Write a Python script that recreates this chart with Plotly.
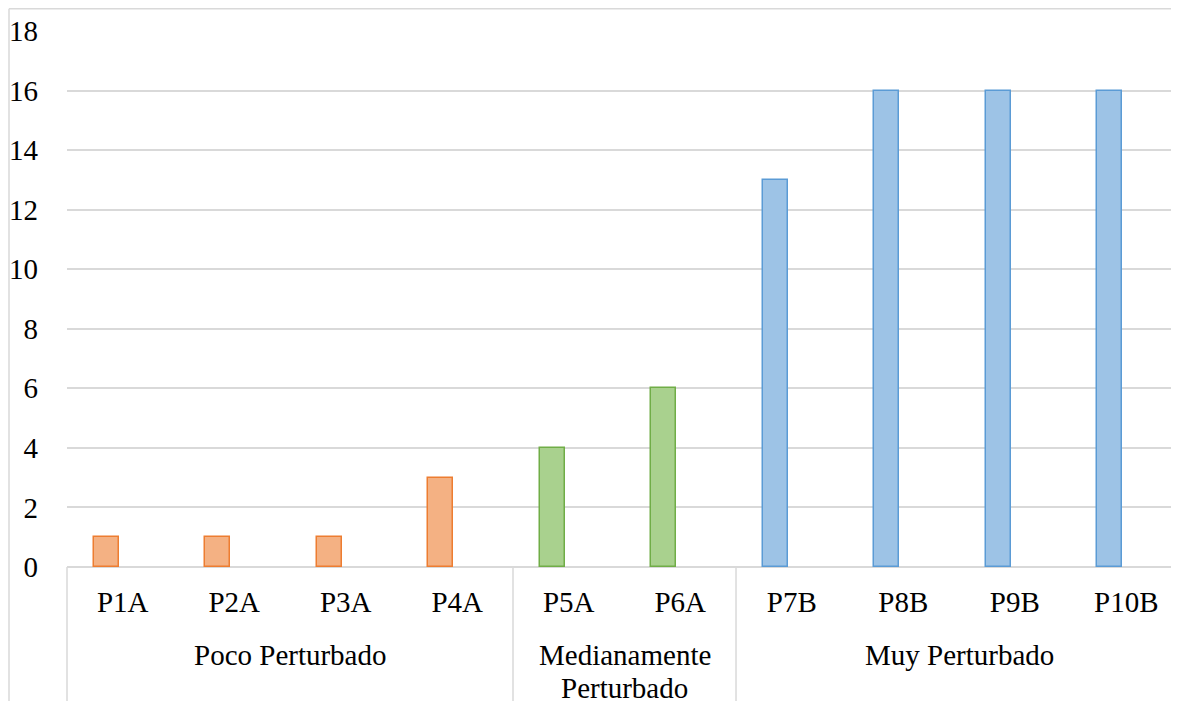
import plotly.graph_objects as go

categories = ["P1A", "P2A", "P3A", "P4A", "P5A", "P6A", "P7B", "P8B", "P9B", "P10B"]
groups = ["Poco Perturbado", "Medianamente Perturbado", "Muy Perturbado"]
group_members = [[0, 1, 2, 3], [4, 5], [6, 7, 8, 9]]
values = [1, 1, 1, 3, 4, 6, 13, 16, 16, 16]
fills = ["#F4B183", "#A9D18E", "#9DC3E6"]
edges = ["#ED7D31", "#70AD47", "#5B9BD5"]

FONT = "'Liberation Serif', 'Times New Roman', serif"
FS = 29
OFF = 8  # page body margin
W, H = 1179 - OFF, 701 - OFF
L, T, B = 67 - OFF, 31 - OFF, 134
plot_h = H - T - B
plot_w = W - L

def py(yref_pix):
    return (H - B - (yref_pix - OFF)) / plot_h

def px(xref_pix):
    return ((xref_pix - OFF) - L) / plot_w

fig = go.Figure()
for gi, members in enumerate(group_members):
    fig.add_trace(go.Bar(
        x=members,
        y=[values[i] for i in members],
        name=groups[gi],
        width=0.224,
        offset=-0.258,
        marker=dict(color=fills[gi], line=dict(color=edges[gi], width=1.5)),
        showlegend=False,
    ))

GRID = "#d9d9d9"
shapes = []
shapes.append(dict(type="line", xref="paper", yref="paper", x0=0, x1=0,
                   y0=0, y1=py(705), line=dict(color=GRID, width=1.5)))
for b in [3.5, 5.5]:
    shapes.append(dict(type="line", xref="x", yref="paper", x0=b, x1=b,
                       y0=0, y1=py(705), line=dict(color=GRID, width=1.5)))
shapes.append(dict(type="line", xref="paper", yref="paper", x0=px(9), x1=px(9),
                   y0=py(8.75), y1=py(705), line=dict(color=GRID, width=1.5)))
shapes.append(dict(type="line", xref="paper", yref="paper", x0=px(9), x1=1.01,
                   y0=py(8.75), y1=py(8.75), line=dict(color=GRID, width=1.5)))

annotations = []
group_centers = [1.5, 4.5, 7.5]
annotations.append(dict(text="Poco Perturbado", x=group_centers[0], y=py(655)))
annotations.append(dict(text="Medianamente", x=group_centers[1], y=py(655)))
annotations.append(dict(text="Perturbado", x=group_centers[1], y=py(688)))
annotations.append(dict(text="Muy Perturbado", x=group_centers[2], y=py(655)))
for a in annotations:
    a.update(xref="x", yref="paper", showarrow=False, xanchor="center", yanchor="middle",
             font=dict(family=FONT, size=FS, color="#000000"))

fig.update_layout(
    width=W, height=H,
    margin=dict(l=L, r=0, t=T, b=B),
    paper_bgcolor="white", plot_bgcolor="white",
    font=dict(family=FONT, size=FS, color="#000000"),
    bargap=0,
    shapes=shapes,
    annotations=annotations,
    xaxis=dict(range=[-0.5, 9.473], tickmode="array", tickvals=list(range(10)), ticktext=categories,
               showgrid=False, zeroline=False, showline=False, ticks="", ticklabelstandoff=15,
               tickfont=dict(family=FONT, size=FS, color="#000000")),
    yaxis=dict(range=[0, 18], dtick=2, showgrid=True, gridcolor=GRID, gridwidth=1.5,
               zeroline=True, zerolinecolor=GRID, zerolinewidth=1.5, showline=False,
               ticks="", ticklabelstandoff=28,
               tickfont=dict(family=FONT, size=FS, color="#000000")),
)

fig.write_html("out.html")
